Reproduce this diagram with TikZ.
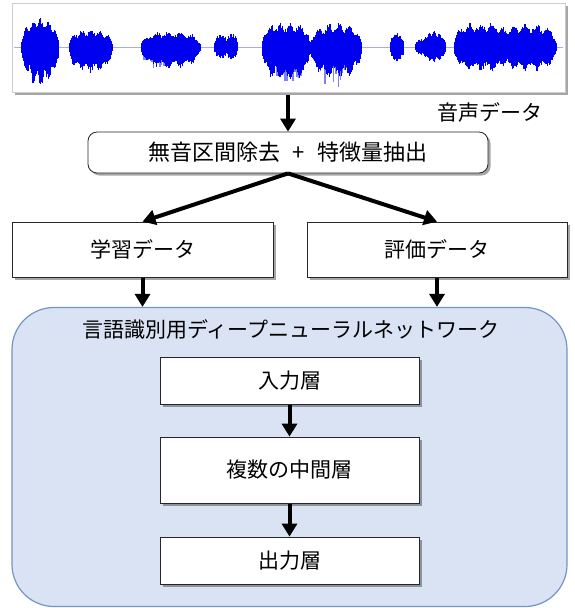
\documentclass[tikz,border=0pt]{standalone}
\usepackage{fontspec}
\setmainfont{Noto Sans CJK JP}
\usetikzlibrary{arrows.meta,shadows}
\definecolor{dnnfill}{HTML}{DAE3F3}
\definecolor{dnnline}{HTML}{7394C4}
\definecolor{wblue}{HTML}{0000F0}
\definecolor{wline}{HTML}{A8A8FF}
% #1 centre, #2 half width, #3 top amp, #4 bottom amp, #5 flatness power
\newcommand{\wblob}[5]{%
  \foreach \t in {-1,-0.97,...,1.001}{%
    \pgfmathsetmacro{\xx}{#1+\t*#2}%
    \pgfmathsetmacro{\env}{sqrt(max(0.0001,1-abs(\t)^#5))}%
    \pgfmathsetmacro{\wig}{0.86+0.14*sin(\t*900+#1)}%
    \pgfmathsetmacro{\ya}{47-#3*\env*\wig*(0.78+0.22*rnd)}%
    \pgfmathsetmacro{\yb}{47+#4*\env*\wig*(0.78+0.22*rnd)}%
    \draw[wblue,line width=1pt] (\xx,\ya) -- (\xx,\yb);
  }}
\newcommand{\wfringe}[3]{%
  \foreach \t in {-1,-0.9,...,1.001}{%
    \pgfmathsetmacro{\xx}{#1+\t*#2}%
    \pgfmathsetmacro{\yb}{47+#3*sqrt(max(0.0001,1-\t*\t))*(0.5+0.5*rnd)}%
    \draw[wblue!50,line width=1.2pt] (\xx,60) -- (\xx,\yb);
  }}
\tikzset{
  plainbox/.style={draw=black!85,line width=0.8pt,fill=white,
    drop shadow={shadow xshift=2.5pt,shadow yshift=-2.5pt,opacity=0.35,fill=black},
    inner sep=0pt},
  arr/.style={line width=4pt,-{Triangle[width=15pt,length=13pt]}},
  lbl/.style={font=\fontsize{21}{25}\selectfont,inner sep=0pt},
}
\begin{document}
\begin{tikzpicture}[x=1pt,y=-1pt]
\useasboundingbox (0,0) rectangle (575,608);
% waveform panel
\node[draw=black!20,line width=0.6pt,fill=white,minimum width=553pt,minimum height=89pt,
  drop shadow={shadow xshift=2.5pt,shadow yshift=-3pt,opacity=0.35,fill=black}] (wave) at (288.5,47.5) {};
\pgfmathsetseed{11}
\draw[wline,line width=1pt] (14,47) -- (563,47);
\wfringe{287}{20}{42}
\wfringe{336}{22}{44}
\wfringe{160}{16}{24}
\wblob{40}{19}{30}{39}{2}
\wblob{91}{22}{18}{26}{3}
\wblob{171}{30}{16}{22}{3}
\wblob{221}{7}{13}{12}{2}
\wblob{232}{6}{14}{13}{2}
\wblob{286}{24}{25}{34}{4}
\wblob{336}{26}{24}{32}{3}
\wblob{397}{7}{14}{15}{2}
\wblob{421}{6}{8}{8}{2}
\wblob{434}{12}{16}{16}{2}
\wblob{482}{28}{25}{25}{4}
\wblob{528}{29}{24}{25}{3}
\node[lbl] (wlabel) at (490,112) {音声データ};
% processing box
\node[plainbox,rounded corners=9pt,minimum width=400pt,minimum height=41pt,lbl,font=\fontsize{22}{26}\selectfont] (proc) at (288,152.5) {無音区間除去\hspace{0.55em}+\hspace{0.55em}特徴量抽出};
% data boxes
\node[plainbox,minimum width=261pt,minimum height=55pt,lbl] (learn) at (142.5,249.5) {学習データ};
\node[plainbox,minimum width=260pt,minimum height=55pt,lbl] (eval) at (437,249.5) {評価データ};
% DNN container
\node[draw=dnnline,line width=1.2pt,fill=dnnfill,rounded corners=42pt,minimum width=555pt,minimum height=299pt,inner sep=0pt] (dnn) at (289.5,457) {};
\node[lbl] (title) at (291,329) {言語識別用ディープニューラルネットワーク};
\node[plainbox,minimum width=259pt,minimum height=47pt,lbl] (inp) at (289.5,380.5) {入力層};
\node[plainbox,minimum width=259pt,minimum height=66pt,lbl] (mid) at (289.5,470) {複数の中間層};
\node[plainbox,minimum width=259pt,minimum height=47pt,lbl] (out) at (289.5,560.5) {出力層};
% connectors
\draw[arr,shorten <=3pt] (wave.south -| proc.north) -- (proc.north);
\draw[arr] (proc.south) -- (learn.north);
\draw[arr] (proc.south) -- (eval.north);
\draw[arr,shorten <=1pt] (learn.south) -- (learn.south |- dnn.north);
\draw[arr,shorten <=1pt] (eval.south) -- (eval.south |- dnn.north);
\draw[arr,shorten <=1pt] (inp.south) -- (mid.north);
\draw[arr,shorten <=1pt] (mid.south) -- (out.north);
\end{tikzpicture}
\end{document}
